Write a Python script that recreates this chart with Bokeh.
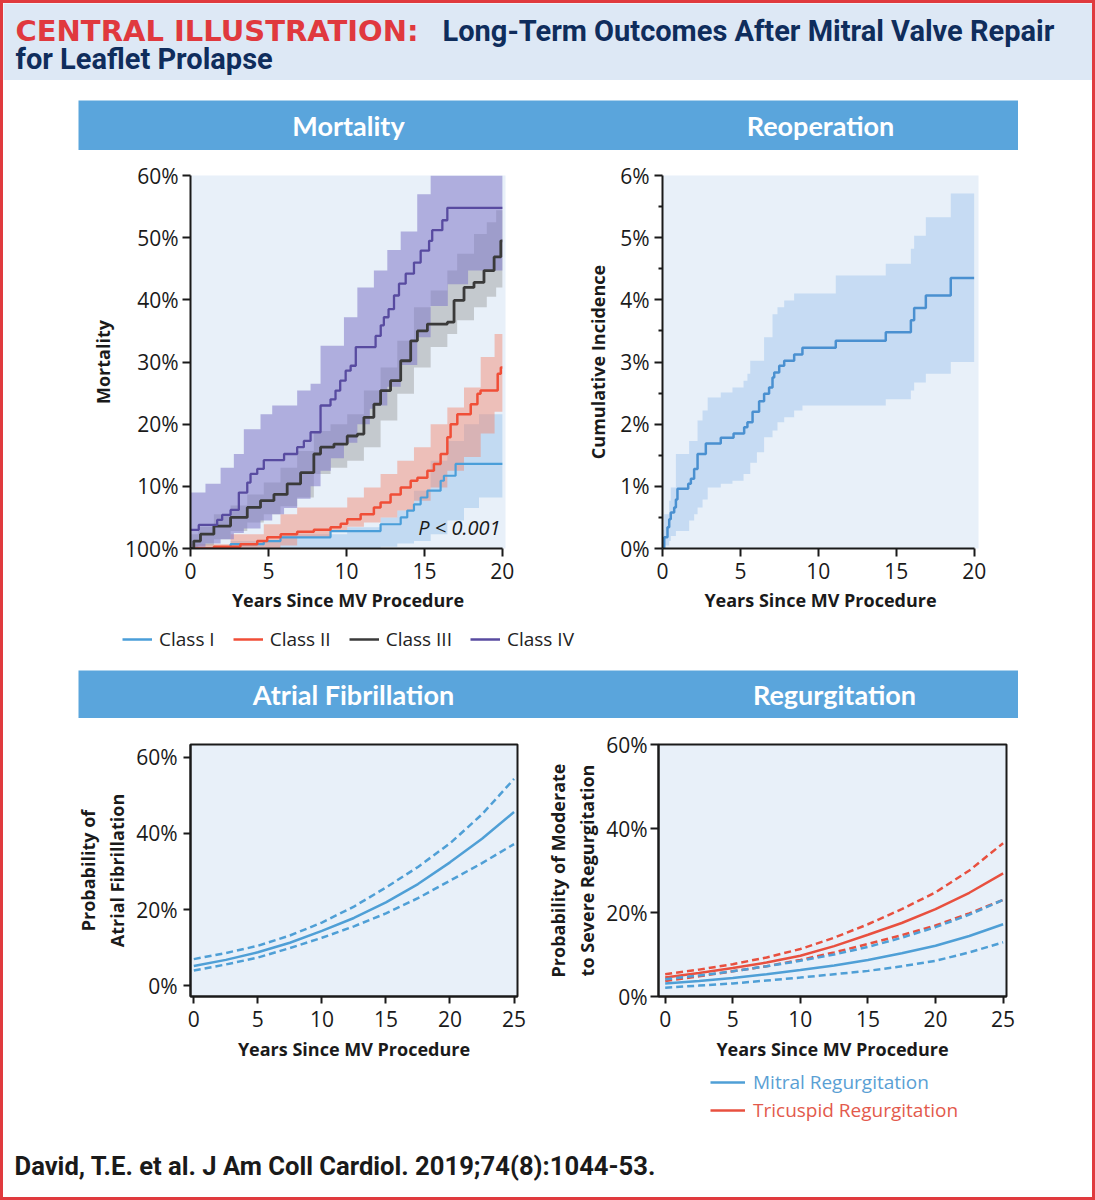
from bokeh.plotting import figure
from bokeh.models import Label, Legend, LegendItem, FixedTicker, Range1d, Spacer
from bokeh.layouts import column, row
from bokeh.embed import file_html
from bokeh.resources import INLINE

# ---------------- DATA ----------------
# Mortality (Kaplan-Meier style step curves), years vs percent
C1_X = [0, 2.57, 4.7, 5.77, 8.98, 12.19, 13.48, 13.9, 14.33, 14.76, 15.19, 16.04, 16.25, 17.0, 20]
C1_Y = [0, 0.7, 1.2, 1.8, 2.8, 3.9, 5.0, 6.1, 7.1, 8.2, 9.3, 10.9, 11.7, 13.6, 13.6]
C1_BX = [0, 2.57, 5.77, 10.05, 12.19, 13.26, 14.33, 15.4, 16.47, 17.54, 18.5, 20]
C1_LO = [0, 0, 0, 0, 0.3, 0.8, 1.2, 2.3, 4.5, 6.5, 8.2, 8.2]
C1_HI = [0.3, 1.2, 2.3, 3.4, 5.0, 6.1, 9.3, 14.1, 17.3, 20.0, 21.6, 21.6]

C2_X = [0, 1.5, 3.2, 4.28, 4.92, 5.78, 6.84, 7.91, 8.98, 9.63, 10.05, 10.91, 11.76, 12.19, 12.83,
        13.48, 14.12, 14.55, 15.19, 15.61, 16.04, 16.47, 16.68, 17.11, 17.97, 18.4, 18.6, 19.7, 19.9, 20]
C2_Y = [0, 0.3, 0.7, 1.2, 1.8, 2.3, 2.7, 3.0, 3.4, 4.0, 4.7, 5.5, 6.6, 7.4, 8.7,
        9.8, 10.9, 11.4, 12.5, 13.6, 15.2, 17.9, 20.0, 21.6, 23.2, 24.9, 25.4, 28.1, 29.1, 29.1]
C2_BX = [0, 2.57, 4.7, 5.77, 6.84, 8.98, 10.05, 11.12, 12.19, 13.26, 14.33, 15.4, 16.47, 17.54, 18.61, 19.5, 20]
C2_LO = [0, 0, 0, 0.5, 1.8, 2.8, 3.5, 4.2, 5.0, 6.1, 7.7, 9.8, 12.5, 14.7, 18.5, 22.0, 22.0]
C2_HI = [0.7, 2.3, 3.9, 5.5, 6.6, 6.6, 8.2, 9.8, 12.0, 14.1, 16.3, 20.0, 22.7, 25.9, 30.8, 34.5, 34.5]

C3_X = [0, 0.21, 0.64, 1.5, 2.57, 3.64, 4.49, 5.35, 6.2, 7.06, 7.91, 8.34, 9.2, 10.05, 10.7, 11.12,
        11.76, 12.19, 12.83, 13.48, 14.12, 14.55, 15.19, 16.47, 16.9, 17.54, 18.18, 18.82, 19.47, 19.9, 20]
C3_Y = [0, 1.2, 2.3, 3.6, 5.0, 6.6, 7.7, 8.7, 10.4, 12.2, 15.2, 16.3, 16.8, 18.1, 18.4, 21.1,
        23.2, 25.4, 27.0, 30.2, 33.4, 35.0, 36.1, 36.4, 39.9, 42.0, 42.8, 44.7, 46.9, 49.5, 49.5]
C3_BX = [0, 0.5, 1.5, 2.57, 3.64, 4.7, 5.77, 6.84, 7.91, 8.98, 10.05, 11.12, 12.19, 13.26, 14.33,
         15.4, 16.47, 17.1, 18.18, 19.0, 19.6, 20]
C3_LO = [0, 0.5, 1.5, 2.8, 4.2, 5.5, 6.8, 8.2, 12.0, 13.0, 14.1, 16.3, 20.6, 24.9, 29.1,
         32.4, 34.5, 36.7, 38.8, 40.5, 42.0, 42.0]
C3_HI = [2.3, 3.5, 5.5, 6.9, 8.7, 10.6, 13.0, 15.7, 18.9, 20.0, 21.6, 25.4, 29.1, 33.4, 38.8,
         41.5, 44.7, 47.4, 50.6, 52.5, 54.4, 54.4]

C4_X = [0, 0.53, 1.71, 2.03, 2.57, 3.1, 3.64, 3.85, 4.28, 4.7, 6.0, 6.84, 7.27, 7.7, 8.34, 8.98, 9.3,
        9.6, 9.95, 10.27, 10.6, 11.87, 12.2, 12.4, 12.7, 13.05, 13.37, 13.8, 14.33, 14.76, 15.3, 15.5,
        16.15, 16.47, 20]
C4_Y = [3.0, 3.8, 4.6, 5.4, 6.2, 9.0, 10.6, 12.0, 12.8, 14.2, 15.2, 16.3, 17.3, 18.7, 23.0, 24.0, 25.4,
        27.0, 28.6, 29.4, 32.4, 34.2, 35.9, 37.2, 38.5, 40.7, 42.6, 44.2, 46.0, 47.9, 49.5, 51.2,
        52.8, 54.8, 54.8]
C4_BX = [0, 0.96, 1.93, 2.78, 3.42, 4.49, 5.24, 6.0, 6.84, 7.7, 8.34, 9.0, 9.84, 10.7, 11.5, 11.76,
         12.62, 13.48, 14.54, 15.4, 16.5, 17.8, 20]
C4_LO = [0.3, 0.8, 1.5, 2.5, 3.2, 4.5, 5.5, 6.5, 8.0, 10.0, 12.5, 14.5, 17.0, 20.0, 22.5, 23.0,
         26.0, 29.5, 34.0, 39.0, 42.5, 44.7, 44.7]
C4_HI = [9.0, 10.4, 13.0, 15.2, 19.2, 21.6, 23.0, 23.0, 25.4, 26.5, 32.6, 32.6, 37.2, 42.0, 42.0, 44.7,
         48.0, 51.0, 57.0, 60.0, 60.0, 60.0, 60.0]

CLASS_NAMES = ["Class I", "Class II", "Class III", "Class IV"]
MORT_XTICKS = [0, 5, 10, 15, 20]
MORT_YTICKS = [0, 10, 20, 30, 40, 50, 60]
MORT_YLABELS = ["100%", "10%", "20%", "30%", "40%", "50%", "60%"]

# Reoperation cumulative incidence
RE_X = [0, 0.11, 0.32, 0.43, 0.53, 0.75, 0.86, 0.96, 1.65, 1.82, 2.03, 2.25, 2.78, 3.74, 4.56, 5.24,
        5.45, 5.78, 6.2, 6.52, 6.84, 7.06, 7.17, 7.49, 7.81, 8.45, 8.98, 11.12, 14.33, 15.94, 16.15,
        16.9, 18.5, 20]
RE_Y = [0, 0.18, 0.34, 0.47, 0.58, 0.66, 0.79, 0.96, 1.04, 1.12, 1.28, 1.52, 1.69, 1.78, 1.85, 1.95,
        2.03, 2.2, 2.37, 2.49, 2.59, 2.75, 2.83, 2.94, 3.02, 3.12, 3.23, 3.34, 3.48, 3.67, 3.87,
        4.07, 4.35, 4.35]
RE_BX = [0, 0.11, 0.43, 0.53, 0.86, 1.71, 2.03, 2.25, 2.57, 2.9, 3.74, 4.49, 5.2, 5.45, 5.63, 6.06,
         6.52, 7.06, 7.38, 7.81, 8.45, 8.98, 11.12, 14.33, 15.94, 16.15, 16.9, 18.5, 20]
RE_LO = [0, 0.05, 0.12, 0.2, 0.28, 0.45, 0.55, 0.66, 0.79, 0.98, 1.04, 1.09, 1.2, 1.2, 1.38, 1.55,
         1.79, 1.9, 2.03, 2.11, 2.22, 2.3, 2.3, 2.4, 2.54, 2.67, 2.81, 3.0, 3.0]
RE_HI = [0.3, 0.55, 0.77, 0.98, 1.52, 1.73, 1.73, 2.06, 2.22, 2.43, 2.51, 2.59, 2.7, 2.81, 3.02, 3.02,
         3.4, 3.77, 3.88, 3.99, 4.1, 4.1, 4.39, 4.58, 4.82, 5.03, 5.33, 5.71, 5.71]
RE_YTICKS = [0, 1, 2, 3, 4, 5, 6]
RE_YMINOR = [0.5, 1.5, 2.5, 3.5, 4.5, 5.5]

# Atrial fibrillation (modelled probability)
FIT_YEARS = [0, 2.5, 5, 7.5, 10, 12.5, 15, 17.5, 20, 22.5, 25]
AF_MID = [5.2, 6.8, 8.8, 11.3, 14.4, 17.8, 21.9, 26.7, 32.4, 38.6, 45.6]
AF_HI = [7.0, 8.6, 10.5, 13.2, 16.6, 20.8, 25.8, 31.2, 37.4, 45.0, 54.3]
AF_LO = [4.0, 5.6, 7.4, 9.9, 12.6, 15.6, 19.0, 23.0, 27.6, 32.2, 37.2]

# Regurgitation
TR_MID = [4.5, 5.6, 6.8, 8.1, 9.7, 12.0, 14.7, 17.5, 20.8, 24.7, 29.3]
TR_HI = [5.3, 6.4, 7.7, 9.3, 11.3, 14.0, 17.2, 20.8, 24.8, 30.0, 36.5]
TR_LO = [3.7, 4.8, 6.0, 7.2, 8.7, 10.5, 12.5, 14.6, 16.9, 19.8, 23.0]
MR_MID = [3.1, 3.7, 4.4, 5.3, 6.3, 7.4, 8.7, 10.3, 12.1, 14.4, 17.2]
MR_HI = [4.1, 5.0, 6.0, 7.2, 8.5, 10.0, 11.8, 14.0, 16.5, 19.5, 23.0]
MR_LO = [2.1, 2.6, 3.1, 3.8, 4.5, 5.3, 6.1, 7.2, 8.5, 10.5, 12.9]
FIT_XTICKS = [0, 5, 10, 15, 20, 25]
FIT_YTICKS = [0, 20, 40, 60]
REG_NAMES = ["Mitral Regurgitation", "Tricuspid Regurgitation"]

# ---------------- STYLE ----------------
W = 1089          # inner width (inside the 3px red frame)
FONT = "Open Sans, Noto Sans, sans-serif"
HFONT = "Lato, Open Sans, sans-serif"
TFONT = "Roboto, Open Sans, sans-serif"
WIDE = "DejaVu Sans, sans-serif"
INK = "#1a1a1a"
BG = "#e8f0f9"
HDR = "#5aa5dc"
TITLE_BG = "#dde8f5"
FRAME_RED = "#e03a3e"
RED_T = "#e0393e"
NAVY = "#0f2d5c"
COL = {"I": "#4a9ed9", "II": "#f04e37", "III": "#3a3a3a", "IV": "#584ba0"}
BAND = {"I": ("#9cc4ec", 0.5), "II": ("#f4826a", 0.45), "III": ("#9a9a9a", 0.45), "IV": ("#7f78c8", 0.55)}
BLUE = "#4f9fd6"
RED = "#e8503f"
NAN = float("nan")


def blank(width, height, bg="white", yr=None):
    f = figure(width=width, height=height, x_range=Range1d(0, width), y_range=yr or Range1d(0, height),
               toolbar_location=None, output_backend="svg", min_border=0,
               background_fill_color=bg, border_fill_color=bg, outline_line_color=None)
    f.axis.visible = False
    f.grid.visible = False
    return f


def style_axes(p, label_size="18px"):
    for ax in (p.xaxis[0], p.yaxis[0]):
        ax.axis_line_color = INK
        ax.axis_line_width = 2
        ax.major_tick_line_color = INK
        ax.major_tick_line_width = 2
        ax.major_tick_in = 0
        ax.major_tick_out = 8
        ax.minor_tick_line_color = None
        ax.major_label_text_font = FONT
        ax.major_label_text_font_size = "21px"
        ax.major_label_text_color = INK
        ax.axis_label_text_font = FONT
        ax.axis_label_text_font_style = "bold"
        ax.axis_label_text_font_size = label_size
        ax.axis_label_text_color = INK
    p.grid.visible = False


# ---------------- TITLE ----------------
title = blank(W, 77, TITLE_BG, yr=Range1d(77, 0))
title.add_layout(Label(x=12, y=27, text="CENTRAL ILLUSTRATION:", text_color=RED_T, text_font=WIDE,
                       text_font_style="bold", text_font_size="29px", text_baseline="middle"))
title.add_layout(Label(x=439, y=27, text="Long-Term Outcomes After Mitral Valve Repair", text_color=NAVY,
                       text_font=TFONT, text_font_style="bold", text_font_size="29px", text_baseline="middle"))
title.add_layout(Label(x=12, y=55, text="for Leaflet Prolapse", text_color=NAVY,
                       text_font=TFONT, text_font_style="bold", text_font_size="29px", text_baseline="middle"))


def header(height, labels, centers):
    h = blank(940, height, HDR)
    for txt, cx in zip(labels, centers):
        h.add_layout(Label(x=cx, y=height / 2, text=txt, text_align="center", text_baseline="middle",
                           text_color="white", text_font=HFONT, text_font_style="bold", text_font_size="27px"))
    return row(Spacer(width=75, height=height), h, Spacer(width=74, height=height))


hdr1 = header(50, ["Mortality", "Reoperation"], [270, 742])
hdr2 = header(48, ["Atrial Fibrillation", "Regurgitation"], [275, 756])

# ---------------- MORTALITY ----------------
m = figure(width=557, height=470, x_range=Range1d(0, 20.2), y_range=Range1d(0, 60),
           min_border_left=187, min_border_right=55, min_border_top=25, min_border_bottom=72,
           toolbar_location=None, output_backend="svg", background_fill_color=BG,
           border_fill_color="white", outline_line_color=None,
           x_axis_label="Years Since MV Procedure", y_axis_label="Mortality")
style_axes(m)
m.xaxis.ticker = FixedTicker(ticks=MORT_XTICKS)
m.xaxis.bounds = (0, 20)
m.yaxis.ticker = FixedTicker(ticks=MORT_YTICKS)
m.yaxis.major_label_overrides = {t: s for t, s in zip(MORT_YTICKS, MORT_YLABELS)}
m.xaxis.major_label_standoff = 6
m.xaxis.axis_label_standoff = 6
m.yaxis.major_label_standoff = 4
m.yaxis.axis_label_standoff = 7

for key, bx, lo, hi in (("I", C1_BX, C1_LO, C1_HI), ("II", C2_BX, C2_LO, C2_HI),
                        ("III", C3_BX, C3_LO, C3_HI), ("IV", C4_BX, C4_LO, C4_HI)):
    c, a = BAND[key]
    m.varea_step(x=bx, y1=lo, y2=hi, step_mode="after", fill_color=c, fill_alpha=a)
for key, xs, ys, lw in (("I", C1_X, C1_Y, 2.2), ("II", C2_X, C2_Y, 2.5),
                        ("III", C3_X, C3_Y, 2.8), ("IV", C4_X, C4_Y, 2.3)):
    m.step(xs, ys, mode="after", line_color=COL[key], line_width=lw)
m.add_layout(Label(x=19.88, y=3.3, text="P < 0.001", text_align="right", text_baseline="middle",
                   text_font=FONT, text_font_style="italic", text_font_size="20px", text_color=INK))

# ---------------- REOPERATION ----------------
r = figure(width=532, height=470, x_range=Range1d(0, 20.28), y_range=Range1d(0, 6),
           min_border_left=102, min_border_right=114, min_border_top=25, min_border_bottom=72,
           toolbar_location=None, output_backend="svg", background_fill_color=BG,
           border_fill_color="white", outline_line_color=None,
           x_axis_label="Years Since MV Procedure", y_axis_label="Cumulative Incidence")
style_axes(r)
r.xaxis.ticker = FixedTicker(ticks=MORT_XTICKS)
r.xaxis.bounds = (0, 20)
r.yaxis.ticker = FixedTicker(ticks=RE_YTICKS, minor_ticks=RE_YMINOR)
r.yaxis.major_label_overrides = {t: f"{t}%" for t in RE_YTICKS}
r.yaxis.minor_tick_line_color = INK
r.yaxis.minor_tick_line_width = 2
r.yaxis.minor_tick_in = 0
r.yaxis.minor_tick_out = 4
r.xaxis.major_label_standoff = 6
r.xaxis.axis_label_standoff = 6
r.yaxis.major_label_standoff = 5
r.yaxis.axis_label_standoff = 7
r.varea_step(x=RE_BX, y1=RE_LO, y2=RE_HI, step_mode="after", fill_color="#a9cbee", fill_alpha=0.55)
r.step(RE_X, RE_Y, mode="after", line_color="#4a90d0", line_width=2.5)

# ---------------- MORTALITY LEGEND ----------------
lg = blank(W, 40, yr=Range1d(0, 40))
items = []
for name, key in zip(CLASS_NAMES, ["I", "II", "III", "IV"]):
    rr = lg.line(x=[NAN], y=[NAN], line_color=COL[key], line_width=2.5)
    items.append(LegendItem(label=name, renderers=[rr]))
leg = Legend(items=items, orientation="horizontal", location=(119, 8), glyph_width=30, glyph_height=20,
             label_standoff=7, spacing=18, padding=0, margin=0, border_line_color=None,
             background_fill_alpha=0, label_text_font=FONT, label_text_font_size="19px",
             label_text_color="#222222", label_height=20)
lg.add_layout(leg)

# ---------------- ATRIAL FIBRILLATION ----------------
af = figure(width=532, height=347, x_range=Range1d(-0.258, 25.27), y_range=Range1d(-2.81, 63.34),
            min_border_left=187, min_border_right=18, min_border_top=26, min_border_bottom=69,
            toolbar_location=None, output_backend="svg", background_fill_color=BG,
            border_fill_color="white", outline_line_color=INK, outline_line_width=2,
            x_axis_label="Years Since MV Procedure", y_axis_label="Probability of\nAtrial Fibrillation")
style_axes(af)
af.xaxis.ticker = FixedTicker(ticks=FIT_XTICKS)
af.yaxis.ticker = FixedTicker(ticks=FIT_YTICKS)
af.yaxis.major_label_overrides = {t: f"{t}%" for t in FIT_YTICKS}
af.xaxis.major_tick_out = 7
af.yaxis.major_tick_out = 7
af.xaxis.major_label_standoff = 7
af.xaxis.axis_label_standoff = 7
af.yaxis.major_label_standoff = 6
af.yaxis.axis_label_standoff = 4
af.line(FIT_YEARS, AF_HI, line_color=BLUE, line_width=2.5, line_dash="7 4")
af.line(FIT_YEARS, AF_LO, line_color=BLUE, line_width=2.5, line_dash="7 4")
af.line(FIT_YEARS, AF_MID, line_color=BLUE, line_width=2.5)

# ---------------- REGURGITATION ----------------
rg = figure(width=557, height=347, x_range=Range1d(-0.495, 25.25), y_range=Range1d(0, 60),
            min_border_left=123, min_border_right=86, min_border_top=26, min_border_bottom=69,
            toolbar_location=None, output_backend="svg", background_fill_color=BG,
            border_fill_color="white", outline_line_color=INK, outline_line_width=2,
            x_axis_label="Years Since MV Procedure",
            y_axis_label="Probability of Moderate\nto Severe Regurgitation")
style_axes(rg)
rg.xaxis.ticker = FixedTicker(ticks=FIT_XTICKS)
rg.yaxis.ticker = FixedTicker(ticks=FIT_YTICKS)
rg.yaxis.major_label_overrides = {t: f"{t}%" for t in FIT_YTICKS}
rg.xaxis.major_tick_out = 7
rg.yaxis.major_tick_out = 8
rg.xaxis.major_label_standoff = 7
rg.xaxis.axis_label_standoff = 7
rg.yaxis.major_label_standoff = 3
rg.yaxis.axis_label_standoff = 4
rg.line(FIT_YEARS, TR_HI, line_color=RED, line_width=2.5, line_dash="7 4")
rg.line(FIT_YEARS, TR_LO, line_color=RED, line_width=2.5, line_dash="7 4")
rg.line(FIT_YEARS, TR_MID, line_color=RED, line_width=2.5)
rg.line(FIT_YEARS, MR_HI, line_color=BLUE, line_width=2.5, line_dash="7 4")
rg.line(FIT_YEARS, MR_LO, line_color=BLUE, line_width=2.5, line_dash="7 4")
rg.line(FIT_YEARS, MR_MID, line_color=BLUE, line_width=2.5)

# ---------------- REGURGITATION LEGEND ----------------
lg2 = blank(W, 63, yr=Range1d(0, 63))
for name, col, txtcol, loc in ((REG_NAMES[0], BLUE, "#5a9fd4", (707, 33)),
                               (REG_NAMES[1], RED, "#e35a4c", (707, 5))):
    rr = lg2.line(x=[NAN], y=[NAN], line_color=col, line_width=2.5)
    L = Legend(items=[LegendItem(label=name, renderers=[rr])], location=loc, glyph_width=35,
               glyph_height=20, label_standoff=8, padding=0, margin=0, border_line_color=None,
               background_fill_alpha=0, label_text_font=FONT, label_text_font_size="19px",
               label_text_color=txtcol, label_height=20)
    lg2.add_layout(L)

# ---------------- FOOTER ----------------
ft = blank(W, 69, yr=Range1d(0, 69))
ft.add_layout(Label(x=11, y=32, text="David, T.E. et al. J Am Coll Cardiol. 2019;74(8):1044-53.",
                    text_font=TFONT, text_font_style="bold", text_font_size="25.6px", text_color="#1a1a1a",
                    text_baseline="middle"))

inner = column(
    Spacer(width=W, height=3, styles={"background-color": FRAME_RED}),
    title,
    Spacer(width=W, height=20),
    hdr1,
    row(m, r),
    lg,
    Spacer(width=W, height=10),
    hdr2,
    row(af, rg),
    lg2,
    ft,
    Spacer(width=W, height=3, styles={"background-color": FRAME_RED}),
)
layout = row(
    Spacer(width=3, height=1200, styles={"background-color": FRAME_RED}),
    inner,
    Spacer(width=3, height=1200, styles={"background-color": FRAME_RED}),
)

open("out.html", "w").write(file_html(layout, INLINE))
